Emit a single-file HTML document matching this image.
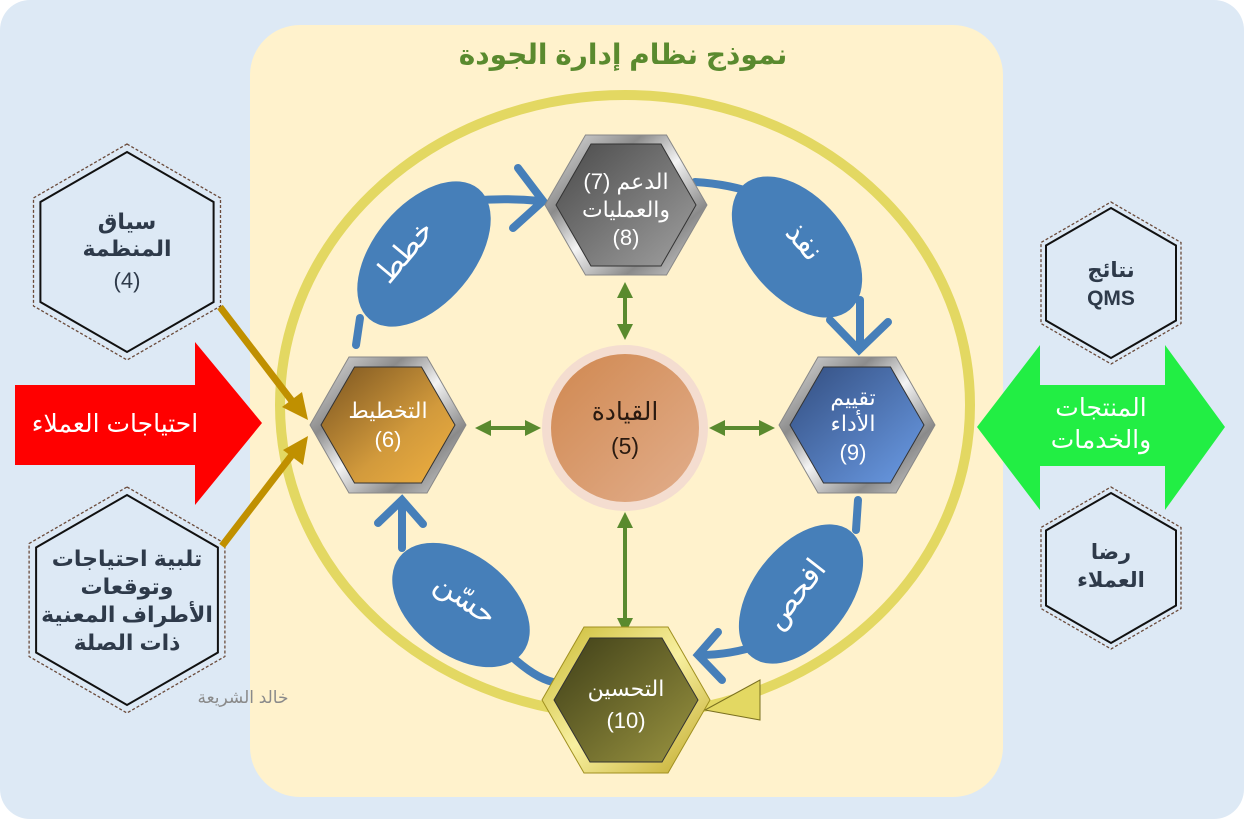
<!DOCTYPE html>
<html><head><meta charset="utf-8"><style>
html,body{margin:0;padding:0;background:#fff}
svg{display:block}
text{font-family:"Liberation Sans","DejaVu Sans",sans-serif}
</style></head><body>
<svg width="1244" height="819" viewBox="0 0 1244 819" xmlns="http://www.w3.org/2000/svg">
<defs>
<linearGradient id="gTop" x1="0" y1="0" x2="1" y2="1"><stop offset="0" stop-color="#4a4a4a"/><stop offset="1" stop-color="#a0a0a0"/></linearGradient>
<linearGradient id="gLeft" x1="0" y1="0" x2="1" y2="1"><stop offset="0" stop-color="#7a5420"/><stop offset="0.6" stop-color="#d29a3c"/><stop offset="1" stop-color="#f0b040"/></linearGradient>
<linearGradient id="gRight" x1="0" y1="0" x2="1" y2="1"><stop offset="0" stop-color="#334e80"/><stop offset="1" stop-color="#6b9ce6"/></linearGradient>
<linearGradient id="gBot" x1="0" y1="0" x2="1" y2="1"><stop offset="0" stop-color="#3f3f18"/><stop offset="1" stop-color="#9a9440"/></linearGradient>
<linearGradient id="silver" x1="0" y1="0" x2="1" y2="1"><stop offset="0" stop-color="#e8e8e8"/><stop offset="0.3" stop-color="#8c8c8c"/><stop offset="0.5" stop-color="#f4f4f4"/><stop offset="0.75" stop-color="#8a8a8a"/><stop offset="1" stop-color="#dcdcdc"/></linearGradient>
<linearGradient id="goldr" x1="0" y1="0" x2="1" y2="1"><stop offset="0" stop-color="#c8b830"/><stop offset="0.5" stop-color="#f8f0a0"/><stop offset="1" stop-color="#c0a828"/></linearGradient>
<linearGradient id="gCirc" x1="0" y1="0" x2="1" y2="1"><stop offset="0" stop-color="#d08850"/><stop offset="1" stop-color="#e2ae8c"/></linearGradient>
</defs>
<rect x="0" y="0" width="1244" height="819" rx="30" fill="#dde9f5"/>
<rect x="250" y="25" width="753" height="772" rx="50" fill="#fff2cc"/>
<text x="623" y="64" text-anchor="middle" font-size="28" font-weight="bold" fill="#5a8a2e">نموذج نظام إدارة الجودة</text>
<ellipse cx="625" cy="405" rx="345" ry="310" fill="none" stroke="#e3d862" stroke-width="10"/>

<polygon points="15,385 195,385 195,342 262,423 195,505 195,465 15,465" fill="#ff0000"/>
<text x="115" y="432" text-anchor="middle" font-size="25" fill="#fff">احتياجات العملاء</text>
<polygon points="977,427 1040,345 1040,385 1165,385 1165,345 1225,427 1165,510 1165,466 1040,466 1040,510" fill="#22ee44"/>
<text x="1101" y="416" text-anchor="middle" font-size="25" fill="#fff">المنتجات</text>
<text x="1101" y="448" text-anchor="middle" font-size="25" fill="#fff">والخدمات</text>

<polygon points="127,144 220.5,198 220.5,306 127,360 33.5,306 33.5,198" fill="none" stroke="#6a4a3a" stroke-width="1.3" stroke-dasharray="3,2"/>
<polygon points="127,152 213.6,202 213.6,302 127,352 40.4,302 40.4,202" fill="#dde9f5" stroke="#111" stroke-width="2"/>
<g font-size="22" font-weight="bold" fill="#2e3a4a" text-anchor="middle">
<text x="127" y="229">سياق</text><text x="127" y="256">المنظمة</text><text x="127" y="288" font-weight="normal">(4)</text>
</g>
<polygon points="127,487 224.9,543.5 224.9,656.5 127,713 29.1,656.5 29.1,543.5" fill="none" stroke="#6a4a3a" stroke-width="1.3" stroke-dasharray="3,2"/>
<polygon points="127,495 217.9,547.5 217.9,652.5 127,705 36.1,652.5 36.1,547.5" fill="#dde9f5" stroke="#111" stroke-width="2"/>
<g font-size="22" font-weight="bold" fill="#2e3a4a" text-anchor="middle">
<text x="127" y="566">تلبية احتياجات</text><text x="127" y="594">وتوقعات</text><text x="127" y="622">الأطراف المعنية</text><text x="127" y="650">ذات الصلة</text>
</g>
<polygon points="1111,202 1181,242.5 1181,323.5 1111,364 1041,323.5 1041,242.5" fill="none" stroke="#6a4a3a" stroke-width="1.3" stroke-dasharray="3,2"/>
<polygon points="1111,208 1176,245.5 1176,320.5 1111,358 1046,320.5 1046,245.5" fill="#dde9f5" stroke="#111" stroke-width="2"/>
<g font-size="21" font-weight="bold" fill="#2e3a4a" text-anchor="middle">
<text x="1111" y="277">نتائج</text><text x="1111" y="305">QMS</text>
</g>
<polygon points="1111,487 1181,527.5 1181,608.5 1111,649 1041,608.5 1041,527.5" fill="none" stroke="#6a4a3a" stroke-width="1.3" stroke-dasharray="3,2"/>
<polygon points="1111,493 1176,530.5 1176,605.5 1111,643 1046,605.5 1046,530.5" fill="#dde9f5" stroke="#111" stroke-width="2"/>
<g font-size="21" font-weight="bold" fill="#2e3a4a" text-anchor="middle">
<text x="1111" y="559">رضا</text><text x="1111" y="587">العملاء</text>
</g>

<g stroke="#c09000" stroke-width="7" fill="#c09000">
<line x1="220" y1="307" x2="295" y2="405"/>
<line x1="222" y1="546" x2="295" y2="451"/>
</g>
<polygon points="308,420 282,407 302,392" fill="#c09000"/>
<polygon points="308,436 283,450 303,465" fill="#c09000"/>

<g fill="none" stroke="#467fb9" stroke-width="8" stroke-linecap="round">
<path d="M356,345 L360,318"/>
<path d="M440,205 Q490,196 540,201"/>
<path d="M518,168 L543,201 L513,228"/>
<path d="M695,182 Q730,184 760,195"/>
<path d="M860,300 L860,348"/>
<path d="M830,320 L859,350 L888,322"/>
<path d="M858,500 L856,530"/>
<path d="M760,645 Q730,655 700,655"/>
<path d="M718,632 L698,655 L722,680"/>
<path d="M510,655 Q535,678 553,682"/>
<path d="M402,548 L402,502"/>
<path d="M378,523 L402,500 L423,524"/>
</g>
<g fill="#467fb9">
<ellipse cx="0" cy="0" rx="50" ry="85" transform="translate(424,254) rotate(40)"/>
<ellipse cx="0" cy="0" rx="50" ry="82" transform="translate(797,247) rotate(-40)"/>
<ellipse cx="0" cy="0" rx="48" ry="80" transform="translate(801,594) rotate(38)"/>
<ellipse cx="0" cy="0" rx="50" ry="78" transform="translate(461,605) rotate(-52)"/>
</g>
<g fill="#fff" font-size="30" text-anchor="middle">
<text transform="translate(412,258) rotate(-50)">خطط</text>
<text transform="translate(797,248) rotate(50)">نفذ</text>
<text transform="translate(803,600) rotate(-52)">افحص</text>
<text transform="translate(460,607) rotate(35)">حسّن</text>
</g>

<g stroke="#5a8a2e" stroke-width="4">
<line x1="625" y1="292" x2="625" y2="330"/>
<line x1="625" y1="524" x2="625" y2="622"/>
<line x1="488" y1="428" x2="528" y2="428"/>
<line x1="722" y1="428" x2="762" y2="428"/>
</g>
<g fill="#5a8a2e">
<polygon points="625,282 617,298 633,298"/><polygon points="625,340 617,324 633,324"/>
<polygon points="625,512 617,528 633,528"/><polygon points="625,634 617,618 633,618"/>
<polygon points="475,428 491,420 491,436"/><polygon points="541,428 525,420 525,436"/>
<polygon points="709,428 725,420 725,436"/><polygon points="775,428 759,420 759,436"/>
</g>

<circle cx="625" cy="428" r="83" fill="#f4ddd0"/>
<circle cx="625" cy="428" r="74" fill="url(#gCirc)"/>
<text x="625" y="420" text-anchor="middle" font-size="25" fill="#2a1a10">القيادة</text>
<text x="625" y="454" text-anchor="middle" font-size="23" fill="#2a1a10">(5)</text>

<polygon points="545,205 585.5,135 666.5,135 707,205 666.5,275 585.5,275" fill="url(#silver)" stroke="#888" stroke-width="1"/>
<polygon points="556,205 591,144 661,144 696,205 661,266 591,266" fill="url(#gTop)" stroke="#333" stroke-width="1"/>
<g fill="#fff" font-size="22" text-anchor="middle">
<text x="626" y="189">الدعم (7)</text><text x="626" y="217">والعمليات</text><text x="626" y="245">(8)</text>
</g>
<polygon points="310,425 349,357 427,357 466,425 427,493 349,493" fill="url(#silver)" stroke="#888" stroke-width="1"/>
<polygon points="321,425 354.5,367 421.5,367 455,425 421.5,483 354.5,483" fill="url(#gLeft)" stroke="#333" stroke-width="1"/>
<g fill="#fff" font-size="22" text-anchor="middle">
<text x="388" y="418">التخطيط</text><text x="388" y="447">(6)</text>
</g>
<polygon points="779,425 818,357 896,357 935,425 896,493 818,493" fill="url(#silver)" stroke="#888" stroke-width="1"/>
<polygon points="790,425 823.5,367 890.5,367 924,425 890.5,483 823.5,483" fill="url(#gRight)" stroke="#333" stroke-width="1"/>
<g fill="#fff" font-size="22" text-anchor="middle">
<text x="853" y="405">تقييم</text><text x="853" y="431">الأداء</text><text x="853" y="460">(9)</text>
</g>
<polygon points="542,700 584,627 668,627 710,700 668,773 584,773" fill="url(#goldr)" stroke="#a09020" stroke-width="1"/>
<polygon points="554,700 590,638 662,638 698,700 662,762 590,762" fill="url(#gBot)" stroke="#333" stroke-width="1"/>
<g fill="#fff" font-size="22" text-anchor="middle">
<text x="626" y="696">التحسين</text><text x="626" y="728">(10)</text>
</g>
<polygon points="705,710 760,680 760,720" fill="#e3d862" stroke="#7a7020" stroke-width="1"/>

<text x="243" y="703" text-anchor="middle" font-size="17" fill="#8a8a8a">خالد الشريعة</text>
</svg>
</body></html>
